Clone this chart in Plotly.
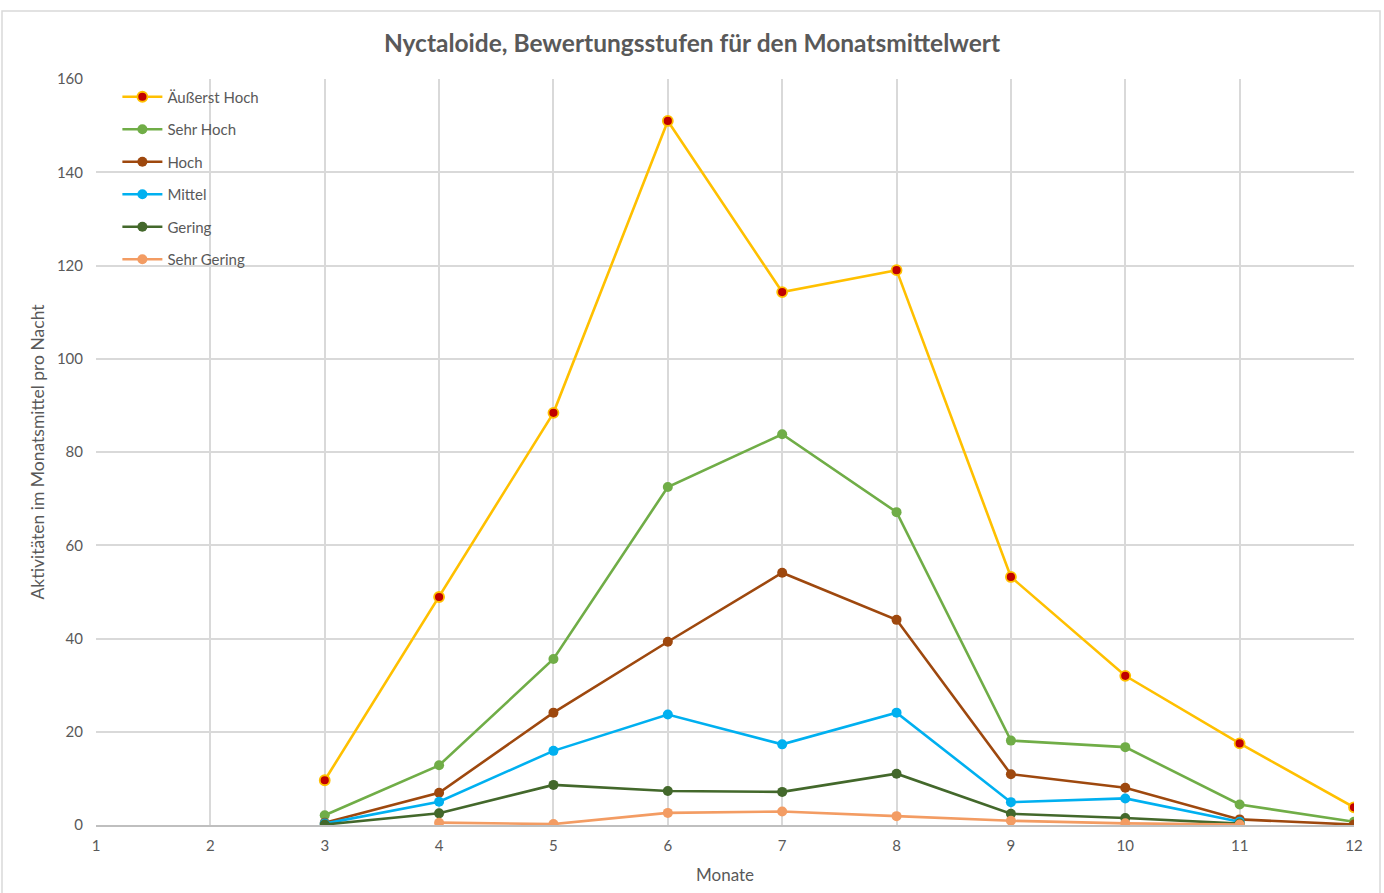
import plotly.graph_objects as go

months = [3, 4, 5, 6, 7, 8, 9, 10, 11, 12]
series_names = ["Äußerst Hoch", "Sehr Hoch", "Hoch", "Mittel", "Gering", "Sehr Gering"]

aeusserst_hoch = [9.6, 48.9, 88.4, 151.0, 114.3, 119.0, 53.2, 32.0, 17.5, 3.8]
sehr_hoch = [2.1, 12.8, 35.6, 72.5, 83.8, 67.1, 18.1, 16.7, 4.4, 0.7]
hoch = [0.5, 6.9, 24.1, 39.3, 54.1, 44.0, 10.9, 8.0, 1.2, 0.1]
mittel = [0.3, 5.0, 15.9, 23.7, 17.3, 24.1, 4.9, 5.7, 0.7, None]
gering = [0.1, 2.5, 8.6, 7.3, 7.1, 11.0, 2.4, 1.5, 0.3, None]
sehr_gering = [None, 0.5, 0.2, 2.6, 2.9, 1.9, 0.9, 0.35, 0.1, None]

x_ticks = list(range(1, 13))
y_ticks = list(range(0, 161, 20))

values = [aeusserst_hoch, sehr_hoch, hoch, mittel, gering, sehr_gering]
line_colors = ["#FFC000", "#70AD47", "#9E480E", "#00B0F0", "#43682B", "#F39C63"]
marker_fill = ["#C00000", "#70AD47", "#9E480E", "#00B0F0", "#43682B", "#F39C63"]

fig = go.Figure()
for i, (name, vals) in enumerate(zip(series_names, values)):
    fig.add_trace(go.Scatter(
        x=months, y=vals, name=name, mode="lines+markers",
        legendgroup=name,
        line=dict(color=line_colors[i], width=2.6),
        marker=dict(size=10, color=marker_fill[i],
                    line=dict(color=line_colors[i], width=1.8 if i == 0 else 0)),
        connectgaps=False,
    ))

font_family = "Lato, 'Open Sans', sans-serif"
grey = "#595959"

fig.update_layout(
    width=1384, height=893,
    margin=dict(l=96, r=30, t=79, b=68),
    paper_bgcolor="white", plot_bgcolor="white",
    font=dict(family=font_family, color=grey, size=15),
    title=dict(text="<b>Nyctaloide, Bewertungsstufen für den Monatsmittelwert</b>",
               x=0.5, xref="container", xanchor="center",
               y=1 - 43 / 893, yanchor="middle",
               font=dict(size=24.5, color=grey, family=font_family)),
    showlegend=True,
    legend=dict(x=0.017, y=0.998, xanchor="left", yanchor="top",
                bgcolor="rgba(255,255,255,0)", font=dict(size=15, color=grey),
                tracegroupgap=10, itemwidth=40),
    xaxis=dict(range=[1, 12], tickvals=x_ticks, showgrid=True, gridcolor="#D9D9D9",
               gridwidth=1.6, zeroline=False, showline=True, linecolor="#BFBFBF",
               linewidth=1.6, ticks="", ticklabelstandoff=6, automargin=False,
               title=dict(text="Monate", font=dict(size=17, color=grey), standoff=16),
               tickfont=dict(size=15, color=grey), mirror=False),
    yaxis=dict(range=[0, 160], tickvals=y_ticks, showgrid=True, gridcolor="#D9D9D9",
               gridwidth=1.6, zeroline=False, showline=False, ticks="",
               ticklabelstandoff=12, automargin=False,
               title=dict(text="Aktivitäten im Monatsmittel pro Nacht",
                          font=dict(size=17.5, color=grey), standoff=7),
               tickfont=dict(size=15, color=grey)),
)

# Outer chart border
pw, ph = 1384 - 96 - 30, 893 - 79 - 68
fig.add_shape(type="rect", xref="paper", yref="paper",
              x0=(2 - 96) / pw, x1=(1380 - 96) / pw,
              y0=(825 - 895) / ph, y1=(825 - 11) / ph,
              line=dict(color="#D9D9D9", width=1.5), fillcolor="rgba(0,0,0,0)", layer="below")

fig.write_html("out.html", config={"displayModeBar": False},
               post_script="document.body.style.margin='0px';")
